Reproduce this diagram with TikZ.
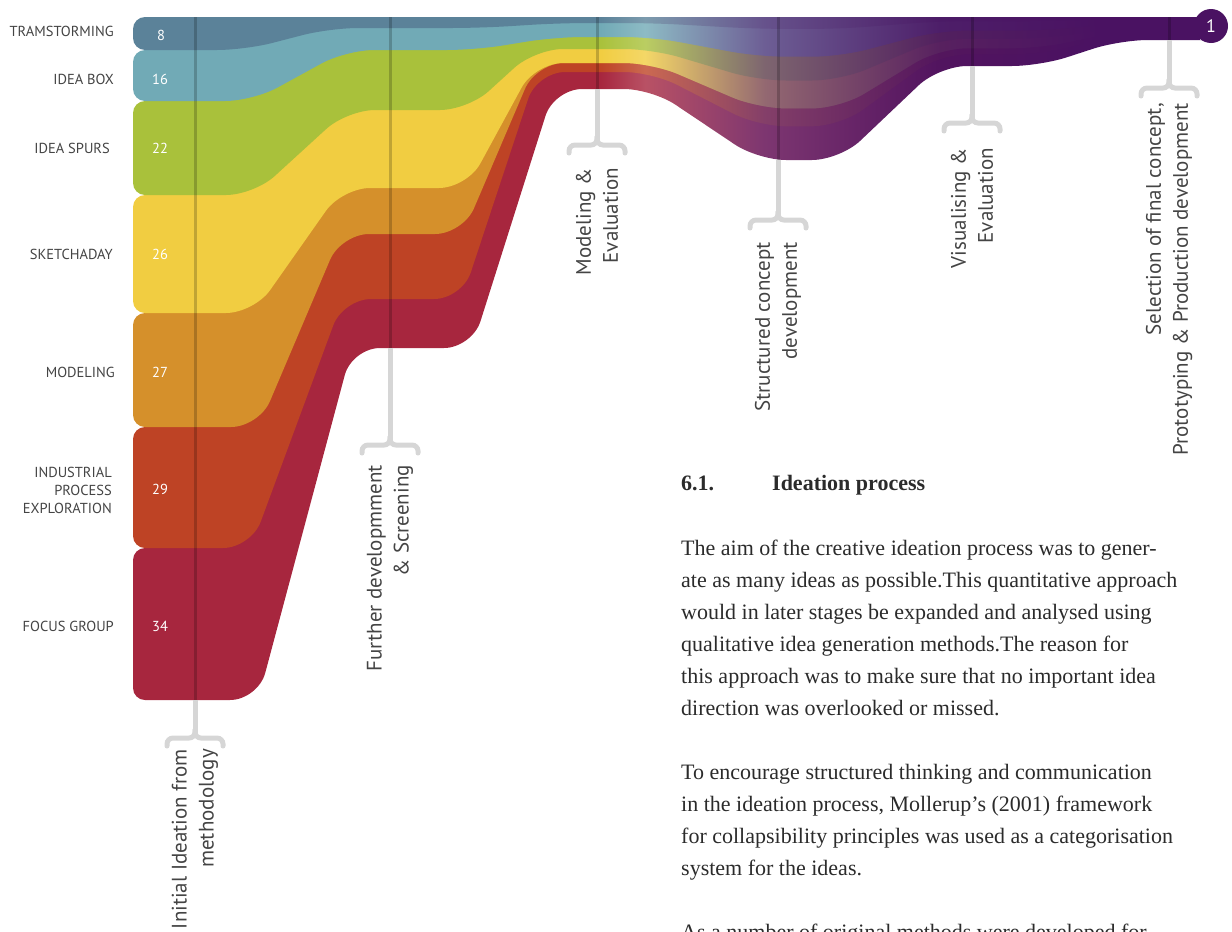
\documentclass[tikz,border=0pt]{standalone}
\usepackage{fontspec}
\setmainfont{Liberation Serif}
\newfontfamily\labfont{PT Sans}
\usetikzlibrary{calc}
\definecolor{cA}{HTML}{5B8299}
\definecolor{cB}{HTML}{71AAB6}
\definecolor{cC}{HTML}{A9C13B}
\definecolor{cD}{HTML}{F1CD41}
\definecolor{cE}{HTML}{D5902B}
\definecolor{cF}{HTML}{BE4325}
\definecolor{cG}{HTML}{A7263E}
\definecolor{pend}{HTML}{4A1262}
\definecolor{pmid}{HTML}{6B3D86}
\definecolor{brk}{HTML}{D6D6D6}
\definecolor{labgray}{HTML}{444444}
\definecolor{txtgray}{HTML}{2B2B2B}
\newcommand\mkbandshade[2]{%
  \colorlet{#1a}{#2!80!white}%
  \colorlet{#1b}{#2!30!pmid}%
  \colorlet{#1c}{#2!8!pend}%
  \pgfdeclarehorizontalshading{#1}{100bp}{color(0bp)=(#2); color(46.9bp)=(#2); color(49bp)=(#1a); color(54.6bp)=(#1b); color(62.8bp)=(#1c); color(70.3bp)=(pend); color(100bp)=(pend)}}
\mkbandshade{shA}{cA}
\mkbandshade{shB}{cB}
\mkbandshade{shC}{cC}
\mkbandshade{shD}{cD}
\mkbandshade{shE}{cE}
\mkbandshade{shF}{cF}
\mkbandshade{shG}{cG}
% #1 shading, #2 box top, #3 box bottom, #4 boundary vertices, #5 right end y
\newcommand\bandpath[5]{%
  \shade[shading=#1, rounded corners=12pt] (160,-#2) -- (133,-#2) -- (133,-#3) -- (185,-#3)
    [rounded corners=28pt] #4 -- (1180,-#5)
    [sharp corners] -- (1200,-#5) -- (1200,-17) -- (175,-17) -- (175,-#2) -- cycle;}
\begin{document}
\begin{tikzpicture}[x=1pt, y=1pt,
  flowstem/.style={draw=black, opacity=0.2, line width=3pt},
  graystem/.style={draw=brk, line width=5pt},
  brace/.style={draw=brk, line width=5pt, rounded corners=6pt, line cap=round},
  leftlab/.style={anchor=east, text=labgray, font=\labfont\fontsize{14.5}{18}\selectfont, align=right, inner sep=0pt},
  numtxt/.style={text=white, font=\labfont\fontsize{14.5}{16}\selectfont, inner sep=0pt},
  stagelab/.style={rotate=90, anchor=east, align=right, text=labgray, font=\labfont\fontsize{21}{27}\selectfont, inner sep=0pt},
  bodytxt/.style={anchor=base west, text=txtgray, inner sep=0pt, font=\fontsize{22}{32}\selectfont},
  headtxt/.style={anchor=base west, text=txtgray, inner sep=0pt, font=\bfseries\fontsize{22}{32}\selectfont}]
\useasboundingbox (0,0) rectangle (1232,-932);
% bands, bottom first
\bandpath{shG}{548}{700}{-- (258,-700) -- (352,-348) -- (472,-348) -- (554,-89) -- (652,-89) -- (758,-160) -- (840,-160) -- (939,-66) -- (1040,-66) -- (1120,-40)}{40}
\bandpath{shF}{427}{548}{-- (251,-548) -- (343,-299) -- (462,-299) -- (537,-72) -- (652,-72) -- (758,-126.3) -- (840,-126.3) -- (939,-54.4) -- (1040,-54.4) -- (1120,-34.6)}{34.6}
\bandpath{shE}{313}{427}{-- (259,-427) -- (341,-234) -- (463,-234) -- (536,-63) -- (652,-63) -- (758,-108.4) -- (840,-108.4) -- (939,-48.3) -- (1040,-48.3) -- (1120,-31.7)}{31.7}
\bandpath{shD}{195}{313}{-- (254,-313) -- (342,-188) -- (467,-188) -- (535,-63) -- (652,-63) -- (758,-108.4) -- (840,-108.4) -- (939,-48.3) -- (1040,-48.3) -- (1120,-31.7)}{31.7}
\bandpath{shC}{101}{195}{-- (254,-195) -- (347,-110) -- (468,-110) -- (535,-49) -- (652,-49) -- (758,-80.5) -- (840,-80.5) -- (939,-38.8) -- (1040,-38.8) -- (1120,-27.2)}{27.2}
\bandpath{shB}{50}{101}{-- (253,-101) -- (346,-50) -- (475,-50) -- (555,-37) -- (652,-37) -- (758,-56.7) -- (840,-56.7) -- (939,-30.6) -- (1040,-30.6) -- (1120,-23.4)}{23.4}
\bandpath{shA}{17}{50}{-- (245,-50) -- (330,-28) -- (480,-28) -- (560,-23) -- (652,-23) -- (758,-28.9) -- (840,-28.9) -- (939,-21.1) -- (1040,-21.1) -- (1120,-18.9)}{18.9}
% end circle
\node[circle, fill=pend, minimum size=34pt, inner sep=0pt, text=white, font=\labfont\fontsize{18}{18}\selectfont] (endc) at (1211,-26) {1};
% stages
\foreach \n/\x/\yf/\yb/\gap/\txt in {
  a/195/700/738/11/{Initial Ideation from\\methodology},
  b/390/348/445/20/{Further developmment\\\& Screening},
  c/597/89/145/23/{Modeling \&\\Evaluation},
  d/778/160/220/22/{Structured concept\\development},
  e/972/66/123/25/{Visualising \&\\Evaluation},
  f/1169/40/88/15/{Selection of final concept,\\Prototyping \& Production development}}{
  \coordinate (\n top) at (\x,-17);
  \coordinate (\n bot) at (\x,-\yf);
  \coordinate (\n brc) at (\x,-\yb);
  \draw[flowstem] (\n top) -- (\n bot);
  \draw[graystem] (\n bot) -- (\n brc);
  \draw[brace] ($(\n brc)+(-28,-8)$) -- ($(\n brc)+(-28,0)$) -- (\n brc) -- ($(\n brc)+(0,8)$);
  \draw[brace] ($(\n brc)+(28,-8)$) -- ($(\n brc)+(28,0)$) -- (\n brc) -- ($(\n brc)+(0,8)$);
  \node[stagelab] (\n lab) at ($(\n brc)+(0,-\gap)$) {\txt};
}
% left labels
\node[leftlab] (lTR) at (114,-31) {TRAMSTORMING};
\node[leftlab] (lIB) at (114,-79) {IDEA BOX};
\node[leftlab] (lIS) at (110,-148) {IDEA SPURS};
\node[leftlab] (lSK) at (113,-254) {SKETCHADAY};
\node[leftlab] (lMO) at (115,-372) {MODELING};
\node[leftlab] (lIP) at (112,-490) {INDUSTRIAL\\PROCESS\\EXPLORATION};
\node[leftlab] (lFG) at (114,-626) {FOCUS GROUP};
% counts
\node[numtxt] (n1) at (161,-35) {8};
\node[numtxt] (n2) at (160,-79) {16};
\node[numtxt] (n3) at (160,-148) {22};
\node[numtxt] (n4) at (160,-254) {26};
\node[numtxt] (n5) at (160,-372) {27};
\node[numtxt] (n6) at (160,-489) {29};
\node[numtxt] (n7) at (160,-626) {34};
% text block
\node[headtxt] (h1) at (681,-490) {6.1.};
\node[headtxt] (h2) at (772,-490) {Ideation process};
\node[bodytxt] (t1) at (681,-555) {The aim of the creative ideation process was to gener-};
\node[bodytxt] (t2) at (681,-587) {ate as many ideas as possible.This quantitative approach};
\node[bodytxt] (t3) at (681,-619) {would in later stages be expanded and analysed using};
\node[bodytxt] (t4) at (681,-651) {qualitative idea generation methods.The reason for};
\node[bodytxt] (t5) at (681,-683) {this approach was to make sure that no important idea};
\node[bodytxt] (t6) at (681,-715) {direction was overlooked or missed.};
\node[bodytxt] (t7) at (681,-779) {To encourage structured thinking and communication};
\node[bodytxt] (t8) at (681,-811) {in the ideation process, Mollerup’s (2001) framework};
\node[bodytxt] (t9) at (681,-843) {for collapsibility principles was used as a categorisation};
\node[bodytxt] (t10) at (681,-875) {system for the ideas.};
\node[bodytxt] (t11) at (681,-939) {As a number of original methods were developed for};
\end{tikzpicture}
\end{document}
